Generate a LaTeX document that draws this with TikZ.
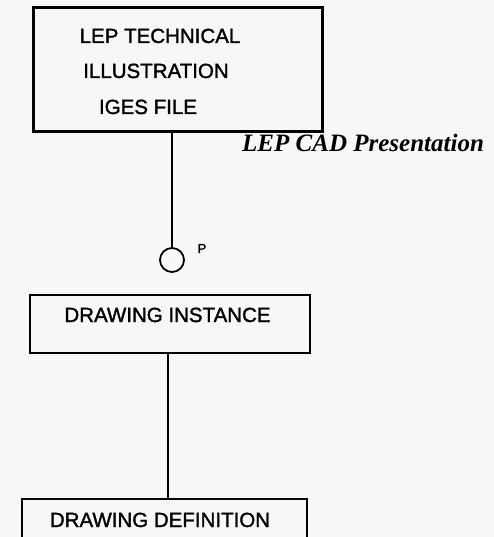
\documentclass[tikz,border=0pt]{standalone}
\usepackage{fontspec}
\setmainfont{Liberation Serif}
\newfontfamily\hv[FakeBold=1.5]{Liberation Sans}
\definecolor{bgcol}{RGB}{247,247,247}
\begin{document}
\begin{tikzpicture}[x=1pt,y=-1pt,
  boxthick/.style={draw,rectangle,line width=3pt,inner sep=0pt},
  boxthin/.style={draw,rectangle,line width=2.4pt,inner sep=0pt},
  lbl/.style={font=\hv\fontsize{20.5}{22}\selectfont,anchor=base,inner sep=0pt},
  conn/.style={line width=2.4pt}]
\clip (0,0) rectangle (494,537);
\fill[bgcol] (0,0) rectangle (494,537);
% boxes
\node[boxthick,minimum width=289pt,minimum height=124pt] (top) at (177.5,70) {};
\node[boxthin,minimum width=280pt,minimum height=58pt] (inst) at (170,324) {};
\node[boxthin,minimum width=285pt,minimum height=66pt] (def) at (164.5,532) {};
\node[draw,circle,line width=1.8pt,minimum size=24pt,inner sep=0pt] (circ) at (172,260) {};
% texts
\node[lbl] (t1) at (160,43) {LEP TECHNICAL};
\node[lbl] (t2) at (156,78) {ILLUSTRATION};
\node[lbl] (t3) at (148,114) {IGES FILE};
\node[lbl] (ti) at (167.5,322) {DRAWING INSTANCE};
\node[lbl] (td) at (160,527) {DRAWING DEFINITION};
\node[font=\hv\fontsize{13}{15}\selectfont,anchor=base,inner sep=0pt] (p) at (202,253) {P};
\node[font=\bfseries\itshape\fontsize{25}{28}\selectfont,anchor=base west,inner sep=0pt] (cad) at (242,152) {LEP CAD Presentation};
% connectors
\draw[conn] (top.south -| circ.north) -- (circ.north);
\draw[conn] ([xshift=-2pt]inst.south) -- ([xshift=-2pt]inst.south |- def.north);
\end{tikzpicture}
\end{document}
